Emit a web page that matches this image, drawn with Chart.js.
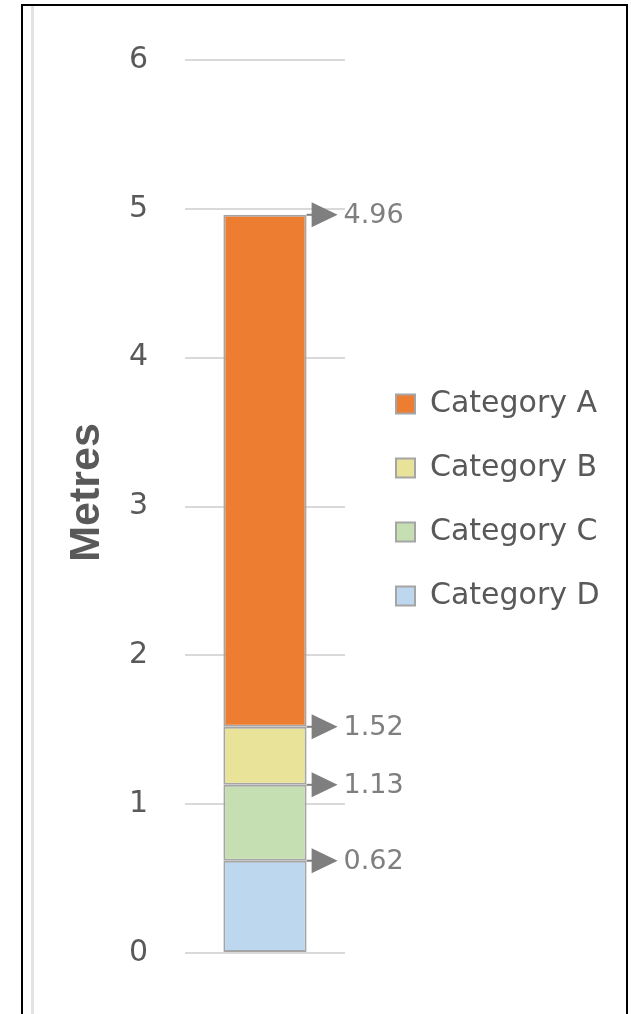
<!DOCTYPE html>
<html>
<head>
<meta charset="utf-8">
<script src="https://cdn.jsdelivr.net/npm/chart.js@4/dist/chart.umd.min.js"></script>
<style>
  html, body { margin: 0; padding: 0; background: #fff; width: 631px; height: 1014px; overflow: hidden; }
  #frame { position: absolute; left: 21px; top: 4px; width: 607px; height: 1040px; border: 2px solid #000; box-sizing: border-box; }
  #inner { position: absolute; left: 31px; top: 6px; width: 3px; height: 1040px; background: #e3e3e3; }
  #wrap { position: absolute; left: 0; top: 0; width: 631px; height: 1014px; }
</style>
</head>
<body>
<div id="frame"></div>
<div id="inner"></div>
<div id="wrap"><canvas id="c" width="631" height="1014"></canvas></div>
<script>
// Data (stack segments, bottom to top)
const categories = [''];
const seriesNames = ['Category D', 'Category C', 'Category B', 'Category A'];
const segD = [0.62];
const segC = [0.51];
const segB = [0.39];
const segA = [3.44];
const seriesColors = ['#BDD7EE', '#C5DFB2', '#E9E399', '#ED7D31'];
const yTicks = [0, 1, 2, 3, 4, 5, 6];

const seriesValues = [segD, segC, segB, segA];
const TITLE_SHIFT = 14;

const markerPlugin = {
  id: 'markerLabels',
  afterLayout(chart) {
    const l = chart.legend;
    if (l) {
      const pad = l.options.labels.padding;
      l.left = 396 - pad; l.right = 631; l.width = l.right - l.left;
      l.top = 355; l.bottom = 960; l.height = l.bottom - l.top;
    }
  },
  beforeDraw(chart) {
    // nudge the axis title up slightly while the axis layer is drawn
    const y = chart.scales.y;
    y.top -= TITLE_SHIFT; y.bottom -= TITLE_SHIFT;
  },
  beforeDatasetsDraw(chart) {
    const y = chart.scales.y;
    y.top += TITLE_SHIFT; y.bottom += TITLE_SHIFT;
  },
  afterDatasetsDraw(chart) {
    const ctx = chart.ctx;
    let cum = 0;
    chart.data.datasets.forEach((ds, i) => {
      const meta = chart.getDatasetMeta(i);
      const el = meta.data[0];
      cum += ds.data[0];
      const x = el.x + el.width / 2;
      const y = el.y;
      ctx.save();
      ctx.strokeStyle = '#7F7F7F';
      ctx.lineWidth = 2;
      ctx.beginPath(); ctx.moveTo(x, y); ctx.lineTo(x + 6, y); ctx.stroke();
      ctx.fillStyle = '#7F7F7F';
      ctx.beginPath();
      ctx.moveTo(x + 5, y - 12.5);
      ctx.lineTo(x + 31, y);
      ctx.lineTo(x + 5, y + 12.5);
      ctx.closePath(); ctx.fill();
      ctx.font = '27px "DejaVu Sans"';
      ctx.textAlign = 'left';
      ctx.textBaseline = 'middle';
      ctx.fillStyle = '#7F7F7F';
      ctx.fillText(cum.toFixed(2), x + 37, y + 1);
      ctx.restore();
    });
  }
};

new Chart(document.getElementById('c'), {
  type: 'bar',
  data: {
    labels: categories,
    datasets: seriesNames.map((n, i) => ({
      label: n,
      data: seriesValues[i],
      backgroundColor: seriesColors[i],
      borderColor: '#A5A5A5',
      borderWidth: 2,
      borderSkipped: false,
      barPercentage: 1,
      categoryPercentage: 0.52
    }))
  },
  options: {
    responsive: false,
    animation: false,
    layout: { padding: { top: 60, bottom: 61, left: 0, right: 285 } },
    plugins: {
      tooltip: { enabled: false },
      legend: {
        position: 'right',
        align: 'start',
        reverse: true,
        maxWidth: 1,
        labels: {
          boxWidth: 19, boxHeight: 19, padding: 34,
          color: '#595959',
          font: { family: '"DejaVu Sans"', size: 30 }
        }
      }
    },
    scales: {
      x: { display: false, stacked: true },
      y: {
        stacked: true,
        min: 0, max: 6,
        afterBuildTicks: (s) => { s.ticks = yTicks.map(v => ({ value: v })); },
        afterFit: (s) => { s.width = 185; },
        grid: { color: '#D9D9D9', lineWidth: 2, drawTicks: false },
        border: { display: false },
        ticks: { color: '#595959', padding: 37, font: { family: '"DejaVu Sans"', size: 30 } },
        title: {
          display: true, text: 'Metres', color: '#595959',
          font: { family: '"Liberation Sans"', size: 43, weight: 'bold' },
          padding: { top: 61, bottom: 0 }
        }
      }
    }
  },
  plugins: [markerPlugin]
});
</script>
</body>
</html>
